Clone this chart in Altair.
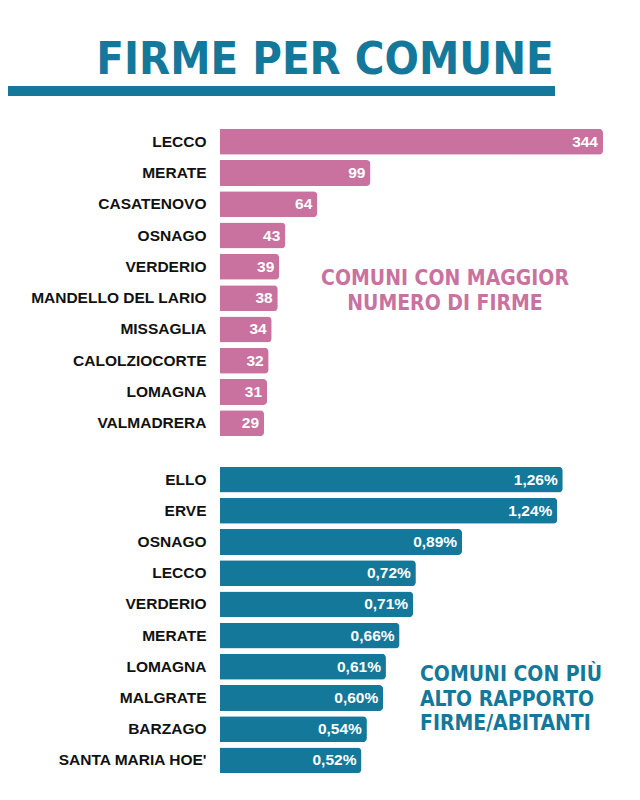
import pandas as pd
import altair as alt

# top ranking: number of signatures
comuni_firme = ["LECCO", "MERATE", "CASATENOVO", "OSNAGO", "VERDERIO",
                "MANDELLO DEL LARIO", "MISSAGLIA", "CALOLZIOCORTE", "LOMAGNA", "VALMADRERA"]
firme = [344, 99, 64, 43, 39, 38, 34, 32, 31, 29]

# bottom ranking: signatures / inhabitants (%)
comuni_rapporto = ["ELLO", "ERVE", "OSNAGO", "LECCO", "VERDERIO",
                   "MERATE", "LOMAGNA", "MALGRATE", "BARZAGO", "SANTA MARIA HOE'"]
rapporto = [1.26, 1.24, 0.89, 0.72, 0.71, 0.66, 0.61, 0.60, 0.54, 0.52]

PINK = "#c9729f"
TEAL = "#13789a"
HEAD_FONT = "DejaVu Sans Condensed, DejaVu Sans, sans-serif"

df_top = pd.DataFrame({"comune": comuni_firme, "valore": firme})
df_top["label"] = df_top["valore"].astype(str)

df_bot = pd.DataFrame({"comune": comuni_rapporto, "valore": rapporto})
df_bot["label"] = df_bot["valore"].map(lambda v: f"{v:.2f}".replace(".", ",") + "%")

one = pd.DataFrame({"k": [0]})

y_axis = alt.Axis(title=None, ticks=False, domain=False, labelPadding=14,
                  labelFont="Liberation Sans", labelFontWeight="bold",
                  labelFontSize=15.5, labelColor="#111111", labelLimit=300,
                  minExtent=212, maxExtent=212)
y_scale = alt.Scale(paddingInner=0.17, paddingOuter=0.085)


def panel(df, color, domain_max):
    base = alt.Chart(df).encode(
        y=alt.Y("comune:N", sort=None, axis=y_axis, scale=y_scale),
        x=alt.X("valore:Q", axis=None,
                scale=alt.Scale(domain=[0, domain_max], clamp=True, nice=False)),
    )
    bars = base.mark_bar(color=color, cornerRadiusEnd=4)
    labels = base.mark_text(align="right", dx=-5, color="white", fontWeight="bold",
                            fontSize=15.5, font="Liberation Sans").encode(text="label:N")
    return bars, labels


bars_t, labels_t = panel(df_top, PINK, 252)
bars_b, labels_b = panel(df_bot, TEAL, 1.408)

title = alt.Chart(one).mark_text(
    text="FIRME PER COMUNE", font=HEAD_FONT, fontWeight="bold", fontSize=45,
    color=TEAL, align="center", baseline="alphabetic"
).encode(x=alt.value(105), y=alt.value(-52))

underline = alt.Chart(one).mark_rect(color=TEAL).encode(
    x=alt.value(-212), x2=alt.value(335), y=alt.value(-40), y2=alt.value(-30)
)

note_top = alt.Chart(one).mark_text(
    text=["COMUNI CON MAGGIOR", "NUMERO DI FIRME"], font=HEAD_FONT, fontWeight="bold",
    fontSize=21, lineHeight=25, color=PINK, align="center", baseline="top"
).encode(x=alt.value(225), y=alt.value(142))

note_bot = alt.Chart(one).mark_text(
    text=["COMUNI CON PIÙ", "ALTO RAPPORTO", "FIRME/ABITANTI"], font=HEAD_FONT,
    fontWeight="bold", fontSize=21, lineHeight=24.5, color=TEAL, align="left",
    baseline="top"
).encode(x=alt.value(200), y=alt.value(200))

top = alt.layer(title, underline, bars_t, labels_t, note_top).properties(width=383, height=313)
bottom = alt.layer(bars_b, labels_b, note_bot).properties(width=383, height=312)

chart = alt.vconcat(top, bottom, spacing=25).properties(
    padding={"left": 0, "top": 30, "right": 0, "bottom": 0}
).configure_view(stroke=None).configure_concat(spacing=25)

chart.save("out.html", embed_options={"renderer": "svg", "actions": False})
